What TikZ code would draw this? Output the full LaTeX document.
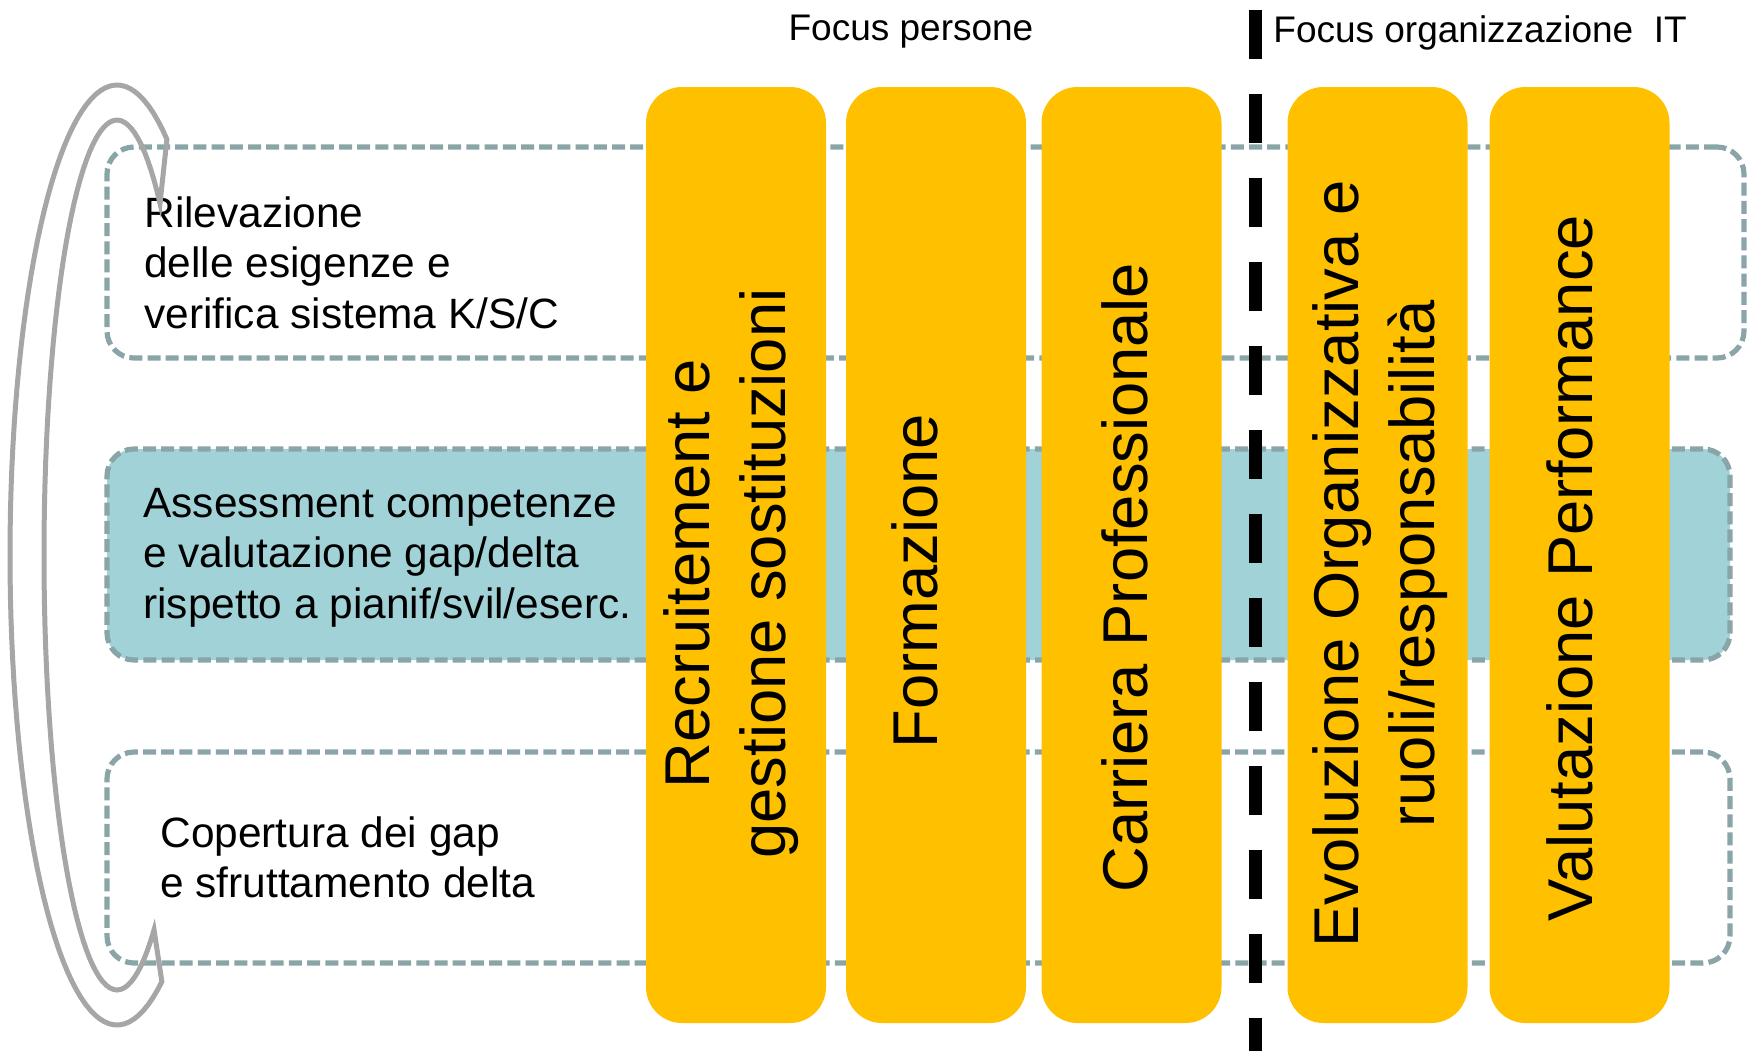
\documentclass[tikz,border=0pt]{standalone}
\usepackage{fontspec}
\setmainfont{Liberation Sans}
\definecolor{orangeC}{HTML}{FFC000}
\definecolor{tealC}{HTML}{A0D2D7}
\definecolor{dashC}{HTML}{8AA5A8}
\definecolor{bandC}{HTML}{A6A6A6}
\begin{document}
\begin{tikzpicture}[x=0.5pt,y=-0.5pt,
  rowbox/.style={draw=dashC, line width=2.6pt, dash pattern=on 6.5pt off 2.6pt,
    rounded corners=13.5pt, inner sep=0pt, outer sep=0pt, minimum height=105.5pt},
  colbox/.style={fill=orangeC, rounded corners=18pt, inner sep=0pt, outer sep=0pt,
    minimum width=90pt, minimum height=468pt},
  coltext/.style={rotate=90, anchor=base, inner sep=0pt,
    font=\fontsize{31.65}{38.25}\selectfont},
  rowtext/.style={anchor=base west, inner sep=0pt,
    font=\fontsize{21.2}{25.25}\selectfont},
  toptext/.style={inner sep=0pt, font=\fontsize{18.5}{22}\selectfont},
  vdash/.style={line width=6.5pt, dash pattern=on 24.5pt off 17.5pt},
  band/.style={draw=bandC, line width=2.5pt}
]
\useasboundingbox (0,0) rectangle (1747,1051);

% row boxes
\node[rowbox, minimum width=818.5pt] (r1) at (925.5,252.5) {};
\node[rowbox, fill=tealC, minimum width=811.5pt] (r2) at (918.5,554.5) {};
\node[rowbox, minimum width=811.5pt] (r3) at (918.5,857.5) {};

% row texts
\node[rowtext] (r1t) at (144,227) {\begin{tabular}[t]{@{}l@{}}Rilevazione\\delle esigenze e\\verifica sistema K/S/C\end{tabular}};
\node[rowtext] (r2t) at (143,517) {\begin{tabular}[t]{@{}l@{}}Assessment competenze\\e valutazione gap/delta\\rispetto a pianif/svil/eserc.\end{tabular}};
\node[rowtext] (r3t) at (160,847) {\begin{tabular}[t]{@{}l@{}}Copertura dei gap\\e sfruttamento delta\end{tabular}};

% columns
\node[colbox] (c1) at (736,555) {};
\node[colbox] (c2) at (936,555) {};
\node[colbox] (c3) at (1131.5,555) {};
\node[colbox] (c4) at (1377.5,555) {};
\node[colbox] (c5) at (1579.5,555) {};

% column texts
\node[coltext] (c1t) at (709,573.5) {\begin{tabular}[t]{@{}c@{}}Recruitement e\\gestione sostituzioni\end{tabular}};
\node[coltext] (c2t) at (937.5,581) {Formazione};
\node[coltext] (c3t) at (1147,577.5) {Carriera Professionale};
\node[coltext] (c4t) at (1358,564) {\begin{tabular}[t]{@{}c@{}}Evoluzione Organizzativa e\\ruoli/responsabilità\end{tabular}};
\node[coltext] (c5t) at (1592,568) {Valutazione Performance};

% top labels
\node[toptext, anchor=base] (fp) at (911,40) {Focus persone};
\node[toptext, anchor=base west] (fo) at (1273,42) {Focus organizzazione\ \ IT};

% divider
\coordinate (vtop) at (1255,10);
\coordinate (vbot) at (1255,1051);
\draw[vdash] (vtop) -- (vbot);

% curved band arrow
\draw[band] plot[domain=-62.2:-294.8, samples=90] ({117+107*cos(\x)},{555+470*sin(\x)})
  -- plot[domain=59.5:306.1, samples=90] ({117+73*cos(\x)},{555+435*sin(\x)}) -- cycle;
\end{tikzpicture}
\end{document}
